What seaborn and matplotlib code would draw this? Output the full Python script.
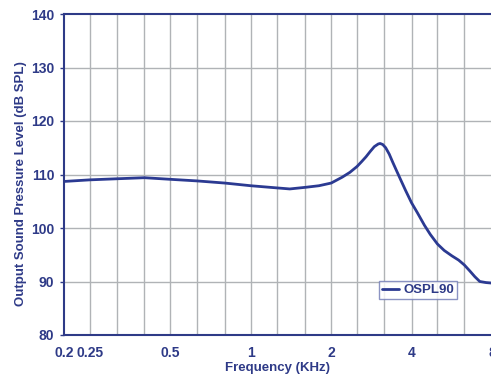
import numpy as np
import pandas as pd
import seaborn as sns
import matplotlib.pyplot as plt
from matplotlib.ticker import FixedLocator, NullLocator

# OSPL90 response
freq_khz = [0.2, 0.25, 0.315, 0.4, 0.5, 0.63, 0.8, 1.0, 1.25, 1.4, 1.6, 1.8, 2.0, 2.2,
            2.35, 2.5, 2.6, 2.7, 2.8, 2.9, 3.0, 3.05, 3.12, 3.2, 3.3, 3.4, 3.5, 3.65,
            3.8, 4.0, 4.2, 4.47, 4.7, 5.0, 5.3, 5.66, 6.0, 6.3, 6.6, 6.9, 7.2, 7.6, 8.0]
ospl90 = [108.7, 109.0, 109.2, 109.4, 109.1, 108.8, 108.4, 107.9, 107.5, 107.3, 107.6, 107.9, 108.4, 109.5,
          110.4, 111.5, 112.4, 113.3, 114.3, 115.2, 115.7, 115.8, 115.6, 115.0, 113.8, 112.3, 110.9, 108.9,
          107.0, 104.7, 102.9, 100.5, 98.8, 97.0, 95.8, 94.8, 94.0, 93.1, 92.0, 90.9, 90.0, 89.8, 89.7]

tick_vals = [0.2, 0.25, 0.5, 1, 2, 4, 8]
tick_labels = ["0.2", "0.25", "0.5", "1", "2", "4", "8"]
grid_vals = [0.25, 0.315, 0.4, 0.5, 0.63, 0.8, 1, 1.25, 1.6, 2, 2.5, 3.15, 4, 5, 6.3, 8]

navy = "#2e3a87"
line_col = "#2b3a92"

sns.set_style("white")
plt.rcParams['font.family'] = ['Liberation Sans', 'DejaVu Sans']

df = pd.DataFrame({"Frequency": freq_khz, "OSPL90": ospl90})

fig = plt.figure(figsize=(4.91, 3.79), dpi=100)
ax = fig.add_axes([64 / 491, 1 - 335 / 379, 428 / 491, 321 / 379])

ax.set_xscale("log")
for g in grid_vals:
    ax.axvline(g, color="#b0b3b6", lw=1.0, zorder=0)
for yv in range(90, 140, 10):
    ax.axhline(yv, color="#b0b3b6", lw=1.0, zorder=0)

sns.lineplot(data=df, x="Frequency", y="OSPL90", ax=ax, color=line_col, lw=2.0, label="OSPL90")

ax.set_xlim(0.2, 8)
ax.set_ylim(80, 140)
ax.xaxis.set_major_locator(FixedLocator(tick_vals))
ax.xaxis.set_minor_locator(NullLocator())
ax.set_xticklabels(tick_labels)
ax.set_yticks(range(80, 141, 10))

ax.tick_params(axis="x", length=0, pad=8, labelsize=10, labelcolor=navy)
ax.tick_params(axis="y", length=3, width=1, color=navy, pad=4, labelsize=10, labelcolor=navy, left=True)
for lab in ax.get_xticklabels() + ax.get_yticklabels():
    lab.set_fontweight("bold")

ax.set_xlabel("Frequency (KHz)", fontsize=9.5, fontweight="bold", color=navy, labelpad=1)
ax.set_ylabel("Output Sound Pressure Level (dB SPL)", fontsize=9.5, fontweight="bold", color=navy)
ax.yaxis.set_label_coords(-0.086, 0.473)

for side in ["left", "bottom", "top"]:
    ax.spines[side].set_color(navy)
    ax.spines[side].set_linewidth(1.5)
ax.spines["right"].set_visible(False)

leg = ax.legend(loc="lower left", bbox_to_anchor=(315 / 428, 36 / 321), frameon=True, fancybox=False,
                fontsize=9.5, handlelength=1.3, handletextpad=0.35, borderpad=0.2, borderaxespad=0)
leg.get_frame().set_edgecolor("#6f7ab5")
leg.get_frame().set_linewidth(1.0)
for t in leg.get_texts():
    t.set_fontweight("bold")
    t.set_color(navy)

fig.savefig("out.png", dpi=100)
